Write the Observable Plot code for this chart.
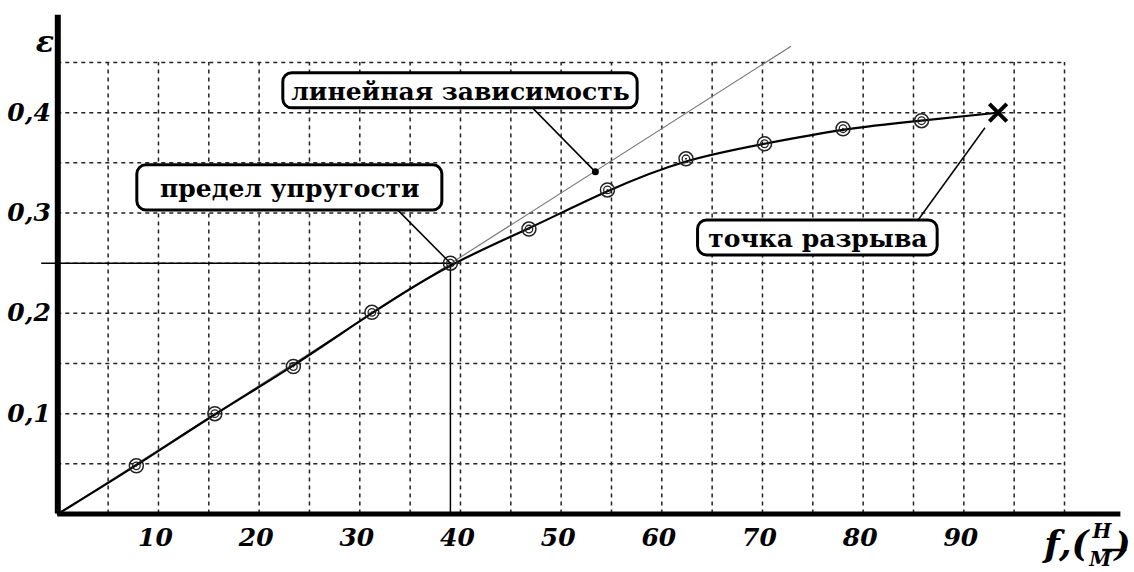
<!DOCTYPE html>
<html><head><meta charset="utf-8">
<script src="https://cdn.jsdelivr.net/npm/d3@7"></script>
<script src="https://cdn.jsdelivr.net/npm/@observablehq/plot@0.6"></script>
<style>
body{margin:0;background:#fff}
</style>
</head><body><div id="chart"></div>
<script>
// measured points: force f (N/m) and strain ε
const forceF  = [7.8, 15.6, 23.4, 31.2, 39, 46.8, 54.6, 62.4, 70.2, 78, 85.8];
const strainE = [0.048, 0.100, 0.147, 0.201, 0.25, 0.284, 0.323, 0.354, 0.369, 0.384, 0.392];
const breakF = 93.4, breakE = 0.400;
const linearF = [0, 72.8];
const linearE = [0, 0.466];
const limitF = 39, limitE = 0.25;
const xTicks = [10, 20, 30, 40, 50, 60, 70, 80, 90];
const yTicks = [0.1, 0.2, 0.3, 0.4];
const yTickLabels = ["0,1", "0,2", "0,3", "0,4"];
const xGrid = [5,10,15,20,25,30,35,40,45,50,55,60,65,70,75,80,85,90,95,100];
const yGrid = [0.05,0.1,0.15,0.2,0.25,0.3,0.35,0.4,0.45];
const annLabels = ["линейная зависимость", "предел упругости", "точка разрыва"];
const annTargetF = [53.4, 39, 92.1];
const annTargetE = [0.341, 0.25, 0.385];

const points = forceF.map((f, i) => ({f, e: strainE[i]}));
const curve = [{f: 0, e: 0}, ...points, {f: breakF, e: breakE}];
const linear = linearF.map((f, i) => ({f, e: linearE[i]}));
// box extents (data units) for annotation callouts
const boxes = [
  {x1: 22.4, x2: 57.6, y1: 0.4043, y2: 0.4394, lx: 47.2, dot: true},
  {x1: 7.9, x2: 38.2, y1: 0.3026, y2: 0.3475, lx: 33.8, dot: false},
  {x1: 63.6, x2: 87.4, y1: 0.2577, y2: 0.2926, lx: 82.9, dot: false}
].map((b, i) => ({...b, label: annLabels[i], tx: annTargetF[i], ty: annTargetE[i]}));

const serif = "DejaVu Serif, serif";
const tickStyle = {fontSize: 25, fontStyle: "italic", fontWeight: "bold", fontFamily: serif, fill: "#000"};

const chart = Plot.plot({
  width: 1134, height: 572,
  marginLeft: 57.3, marginRight: 70, marginTop: 62, marginBottom: 58.5,
  x: {domain: [0, 100], axis: null},
  y: {domain: [0, 0.45], axis: null},
  style: {background: "#fff", fontFamily: serif},
  marks: [
    Plot.ruleX(xGrid, {y1: 0, y2: 0.45, stroke: "#222", strokeWidth: 1.5, strokeDasharray: "4,4"}),
    Plot.ruleY(yGrid, {x1: 0, x2: 100, stroke: "#222", strokeWidth: 1.5, strokeDasharray: "4,4"}),
    Plot.line(linear, {x: "f", y: "e", stroke: "#777", strokeWidth: 1.1}),
    Plot.ruleY([limitE], {x1: -1.6, x2: limitF, stroke: "#000", strokeWidth: 1.5}),
    Plot.ruleX([limitF], {y1: 0, y2: limitE, stroke: "#000", strokeWidth: 1.5}),
    Plot.line(curve, {x: "f", y: "e", curve: "basis", stroke: "#000", strokeWidth: 2.2}),
    Plot.dot(points, {x: "f", y: "e", r: 7, stroke: "#222", strokeWidth: 1.5}),
    Plot.dot(points, {x: "f", y: "e", r: 3.8, stroke: "#222", strokeWidth: 1.3}),
    Plot.dot(points, {x: "f", y: "e", r: 1, fill: "#222"}),
    Plot.dot([{f: breakF, e: breakE}], {x: "f", y: "e", symbol: "times", r: 8, stroke: "#000", strokeWidth: 4}),
    Plot.ruleX([0], {y1: 0, y2: 0.497, stroke: "#000", strokeWidth: 6}),
    Plot.ruleY([0], {x1: 0, x2: 105.6, stroke: "#000", strokeWidth: 5}),
    Plot.link(boxes, {x1: "lx", y1: "y1", x2: "tx", y2: "ty", stroke: "#000", strokeWidth: 1.5}),
    Plot.dot(boxes.filter(d => d.dot), {x: "tx", y: "ty", r: 3.5, fill: "#000"}),
    Plot.rect(boxes, {x1: "x1", x2: "x2", y1: "y1", y2: "y2", fill: "#fff", stroke: "#000", strokeWidth: 3, rx: 9}),
    Plot.text(boxes, {x: d => (d.x1 + d.x2) / 2, y: d => (d.y1 + d.y2) / 2, dy: 1, text: "label",
      fontSize: 25, fontWeight: "bold", fontFamily: serif, fill: "#000"}),
    Plot.text(xTicks, {x: d => d, y: 0, dy: 24, dx: -3, text: d => String(d), ...tickStyle}),
    Plot.text(yTicks, {x: 0, y: d => d, dx: -7, textAnchor: "end", text: (d, i) => yTickLabels[i], ...tickStyle}),
    Plot.text(["ε"], {frameAnchor: "top-left", dx: -22, dy: -32, text: d => d, ...tickStyle, fontSize: 30}),
    Plot.text(["f,("], {frameAnchor: "bottom-right", dx: 24, dy: 42, textAnchor: "end", text: d => d, ...tickStyle, fontSize: 36}),
    Plot.text(["H"], {frameAnchor: "bottom-right", dx: 47, dy: 24, text: d => d, ...tickStyle, fontSize: 20}),
    Plot.ruleY([0], {x1: 103.8, x2: 106.2, dy: 36, stroke: "#000", strokeWidth: 2.5}),
    Plot.text(["M"], {frameAnchor: "bottom-right", dx: 47, dy: 52, text: d => d, ...tickStyle, fontSize: 20}),
    Plot.text([")"], {frameAnchor: "bottom-right", dx: 66, dy: 42, text: d => d, ...tickStyle, fontSize: 34})
  ]
});
document.getElementById("chart").append(chart);
</script>
</body></html>
